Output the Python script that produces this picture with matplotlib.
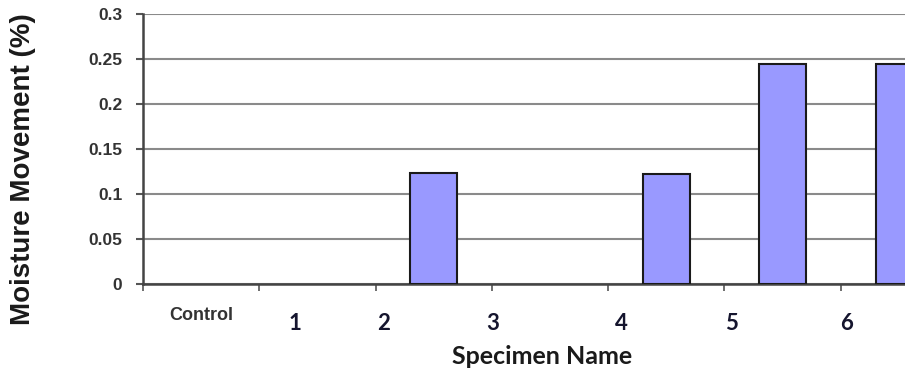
import numpy as np
import matplotlib.pyplot as plt

# data
categories = ['Control', '1', '2', '3', '4', '5', '6']
movement = [0.0, 0.0, 0.123, 0.0, 0.122, 0.245, 0.245]
yticks = [0, 0.05, 0.1, 0.15, 0.2, 0.25, 0.3]
ytick_labels = ['0', '0.05', '0.1', '0.15', '0.2', '0.25', '0.3']
# hand-placed label positions (data units) as in the original
label_x = [0.0, 0.81, 1.57, 2.51, 3.61, 4.56, 5.55]

fig = plt.figure(figsize=(9.05, 3.73), dpi=100)
# the plot area runs past the right edge of the picture, like the source
ax = fig.add_axes([143 / 905, 89 / 373, 814 / 905, 270 / 373])

x = np.arange(len(categories))
# zero-height bars get no outline, so nothing shows for them
edge_w = [1.5 if v > 0 else 0 for v in movement]
ax.bar(x, movement, width=0.4, color='#9999FF', edgecolor='#1a1a1a',
       linewidth=edge_w, zorder=3)

ax.set_xlim(-0.5, len(categories) - 0.5)
ax.set_ylim(0, 0.3)

# horizontal gridlines
ax.set_yticks(yticks)
ax.set_yticklabels(ytick_labels, fontfamily='Liberation Sans',
                   fontweight='bold', fontsize=12.5, color='#333333')
ax.yaxis.grid(True, color='#8a8a8a', linewidth=1.5, zorder=0)
ax.tick_params(axis='y', length=5, width=1.5, color='#555555', pad=10)

# x ticks sit between categories, labels drawn separately
ax.set_xticks(np.arange(len(categories) + 1) - 0.5)
ax.set_xticklabels([])
ax.tick_params(axis='x', length=5, width=1.2, color='#555555')

for s in ['top', 'right']:
    ax.spines[s].set_visible(False)
for s in ['left', 'bottom']:
    ax.spines[s].set_color('#444444')
    ax.spines[s].set_linewidth(1.8)

for lx, name in zip(label_x, categories):
    if name == 'Control':
        ax.text(lx, -0.118, name, transform=ax.get_xaxis_transform(),
                ha='center', va='center', fontfamily='Liberation Sans',
                fontweight='bold', fontsize=13, color='#333333')
    else:
        ax.text(lx, -0.145, name, transform=ax.get_xaxis_transform(),
                ha='center', va='center', fontfamily='Lato',
                fontweight='bold', fontsize=16, color='#15152e')

fig.text(542 / 905, 1 - 356 / 373, 'Specimen Name', ha='center', va='center',
         fontfamily='Lato', fontweight='bold', fontsize=18, color='#1a1a1a')
fig.text(23 / 905, 1 - 169 / 373, 'Moisture Movement (%)', rotation=90,
         ha='center', va='center', fontfamily='Liberation Sans',
         fontweight='bold', fontsize=20, color='#1a1a1a')

fig.savefig('out.png', dpi=100)
